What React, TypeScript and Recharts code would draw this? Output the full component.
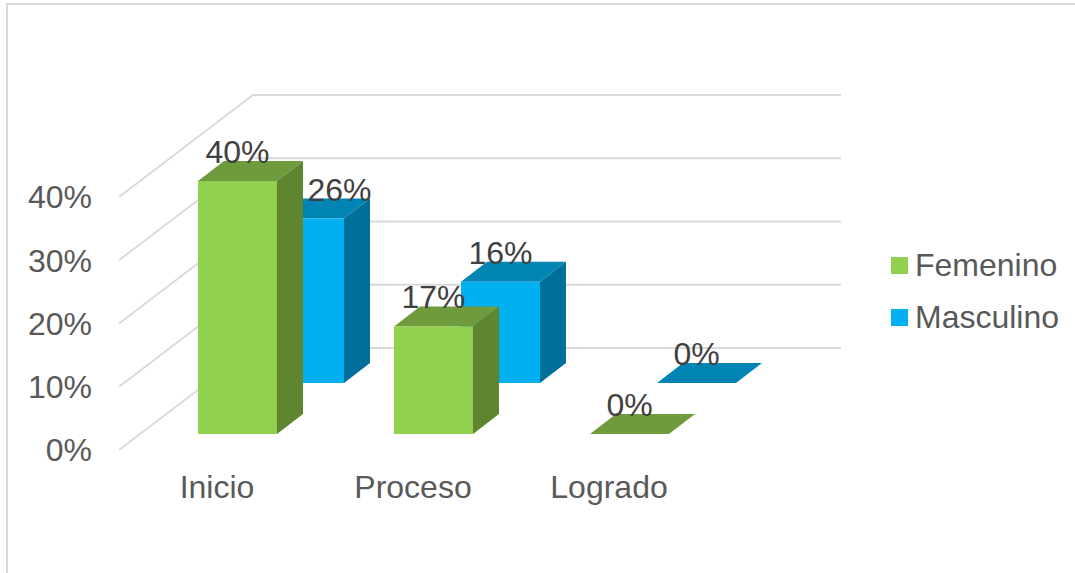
import { BarChart, Bar, XAxis, YAxis, LabelList, Legend, ReferenceLine } from "recharts"

const categories = ["Inicio", "Proceso", "Logrado"]
const femenino = [40, 17, 0]
const masculino = [26, 16, 0]
const wallTicks = [0, 10, 20, 30, 40]

const rows = categories.map((name, i) => ({
  name,
  Femenino: femenino[i],
  Masculino: masculino[i]
}))

const FONT = "'Liberation Sans', Arial, sans-serif"
const GRID = "#d9d9d9"

// fake 3D: how far the top/side faces lean back
const DEPTH_X = 26
const DEPTH_Y = 20

// Back wall sits this far behind the axis front edge
const WALL_X = 134
const WALL_Y = 102
const WALL_END = 841

const greenFaces = { front: "#92d050", top: "#6f9b3c", side: "#5f8530" }
const blueFaces = { front: "#00b0f0", top: "#0084b4", side: "#00709a" }

function Box3D(props: any) {
  const { x, y, width, height, faces } = props
  const r = x + width
  const b = y + height
  return (
    <g>
      <polygon
        points={`${r},${y} ${r + DEPTH_X},${y - DEPTH_Y} ${r + DEPTH_X},${b - DEPTH_Y} ${r},${b}`}
        fill={faces.side}
      />
      <polygon
        points={`${x},${y} ${x + DEPTH_X},${y - DEPTH_Y} ${r + DEPTH_X},${y - DEPTH_Y} ${r},${y}`}
        fill={faces.top}
      />
      <rect x={x} y={y} width={width} height={height} fill={faces.front} />
    </g>
  )
}

function WallLine(props: any) {
  const { x1, y1 } = props
  const backY = y1 - WALL_Y
  return (
    <polyline
      points={`${x1 + 19},${y1} ${x1 + 19 + WALL_X},${backY} ${WALL_END},${backY}`}
      fill="none"
      stroke={GRID}
      strokeWidth={1.8}
    />
  )
}

function BarLabel(props: any) {
  const { x, y, width, value, nudge } = props
  return (
    <text
      x={x + width / 2 + (nudge ?? 0)}
      y={y - 29}
      textAnchor="middle"
      dominantBaseline="central"
      fontFamily={FONT}
      fontSize={32}
      fill="#404040"
    >
      {value}%
    </text>
  )
}

function LegendBox({ payload }: any) {
  return (
    <div style={{ fontFamily: FONT, fontSize: 32, color: "#595959" }}>
      {(payload ?? []).map((item: any) => (
        <div key={item.value} style={{ display: "flex", alignItems: "center", height: 52 }}>
          <span style={{ width: 17, height: 17, background: item.color, marginRight: 7 }} />
          <span>{item.value}</span>
        </div>
      ))}
    </div>
  )
}

export default function App() {
  return (
    <div style={{ position: "absolute", left: 0, top: 0, width: 1075, height: 573, background: "#fff" }}>
      <div
        style={{
          position: "absolute",
          left: 6,
          top: 3,
          right: 0,
          bottom: 0,
          borderTop: `2px solid ${GRID}`,
          borderLeft: `2px solid ${GRID}`
        }}
      />
      <div style={{ position: "absolute", left: 0, top: 0 }}>
        <BarChart
          width={1075}
          height={573}
          data={rows}
          barSize={79}
          margin={{ top: 70.5, right: 175, bottom: 63, left: 40 }}
        >
          {/* visible axes: front edge of the floor */}
          <XAxis
            xAxisId="wall"
            dataKey="name"
            height={60}
            padding={{ left: 19, right: 193 }}
            axisLine={false}
            tickLine={false}
            tickSize={0}
            tickMargin={25}
            tick={{ fontFamily: FONT, fontSize: 32, fill: "#595959" }}
          />
          <YAxis
            yAxisId="wall"
            width={60}
            domain={[0, 60]}
            ticks={wallTicks}
            tickFormatter={(v: number) => `${v}%`}
            axisLine={false}
            tickLine={false}
            tickSize={0}
            tickMargin={8}
            tick={{ fontFamily: FONT, fontSize: 32, fill: "#595959" }}
            allowDataOverflow
          />

          {/* hidden axes: each series stands on its own row of the floor */}
          <XAxis xAxisId="rowF" dataKey="name" hide height={0} padding={{ left: 39, right: 173 }} />
          <YAxis yAxisId="rowF" hide width={0} domain={[-2.53, 57.47]} allowDataOverflow />
          <XAxis xAxisId="rowM" dataKey="name" hide height={0} padding={{ left: 106, right: 106 }} />
          <YAxis yAxisId="rowM" hide width={0} domain={[-10.59, 49.41]} allowDataOverflow />

          {wallTicks.map(t => (
            <ReferenceLine key={t} xAxisId="wall" yAxisId="wall" y={t} shape={WallLine} zIndex={-1} />
          ))}

          <Legend
            layout="horizontal"
            verticalAlign="middle"
            content={LegendBox}
            wrapperStyle={{ position: "absolute", left: 891, top: 239, width: 184, margin: 0 }}
          />

          <Bar
            xAxisId="rowM"
            yAxisId="rowM"
            dataKey="Masculino"
            fill={blueFaces.front}
            isAnimationActive={false}
            shape={(p: any) => <Box3D {...p} faces={blueFaces} />}
          >
            <LabelList
              dataKey="Masculino"
              content={(p: any) => <BarLabel {...p} nudge={p.index === 0 ? 35 : 0} />}
            />
          </Bar>
          <Bar
            xAxisId="rowF"
            yAxisId="rowF"
            dataKey="Femenino"
            fill={greenFaces.front}
            isAnimationActive={false}
            shape={(p: any) => <Box3D {...p} faces={greenFaces} />}
          >
            <LabelList dataKey="Femenino" content={(p: any) => <BarLabel {...p} />} />
          </Bar>
        </BarChart>
      </div>
    </div>
  )
}
